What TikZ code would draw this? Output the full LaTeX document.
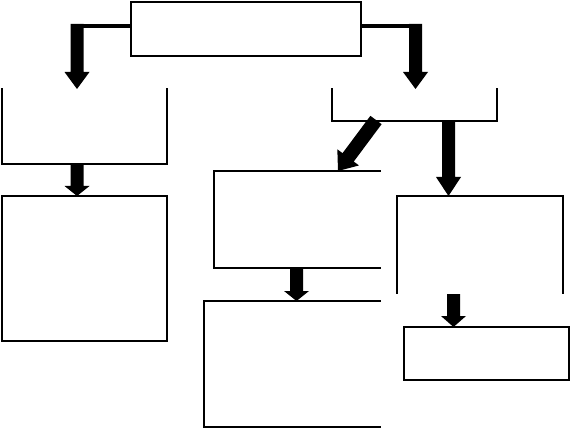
\documentclass[tikz,border=0pt]{standalone}
\usetikzlibrary{calc}
\newcommand\blockarrow[5]{% start, tip, shaft half width, head half width, head length
  \coordinate (ba-h) at ($(#2)!#5pt!(#1)$);
  \fill ($(#1)!#3pt!90:(#2)$) -- ($(ba-h)!#3pt!90:(#2)$) -- ($(ba-h)!#4pt!90:(#2)$)
    -- (#2) -- ($(ba-h)!#4pt!-90:(#2)$) -- ($(ba-h)!#3pt!-90:(#2)$)
    -- ($(#1)!#3pt!-90:(#2)$) -- cycle;}
\begin{document}
\begin{tikzpicture}[x=1pt,y=-1pt,
  blk/.style n args={2}{rectangle, inner sep=0pt, outer sep=0pt, anchor=north west,
    minimum width=#1pt, minimum height=#2pt},
  edge/.style={line width=1.2pt, line cap=rect},
  conn/.style={line width=4pt}]
\useasboundingbox (0,0) rectangle (572,430);
% boxes
\node[blk={230}{54}, draw, line width=1.2pt] (top) at (131,2) {};
\node[blk={165}{75}] (L1) at (2,89) {};
\draw[edge] (L1.north west) -- (L1.south west) -- (L1.south east) -- (L1.north east);
\node[blk={165}{145}, draw, line width=1.2pt] (L2) at (2,196) {};
\node[blk={165}{32}] (R1) at (332,89) {};
\draw[edge] (R1.north west) -- (R1.south west) -- (R1.south east) -- (R1.north east);
\node[blk={166}{97}] (M1) at (214,171) {};
\draw[edge] (M1.north east) -- (M1.north west) -- (M1.south west) -- (M1.south east);
\node[blk={176}{126}] (M2) at (204,301) {};
\draw[edge] (M2.north east) -- (M2.north west) -- (M2.south west) -- (M2.south east);
\node[blk={166}{97}] (R2) at (397,196) {};
\draw[edge] (R2.south west) -- (R2.north west) -- (R2.north east) -- (R2.south east);
\node[blk={165}{53}, draw, line width=1.2pt] (R3) at (404,327) {};
% connectors
\coordinate (c1) at (77,24);
\coordinate (c2) at (415.5,24);
\draw[conn] (top.west |- 0,26) -- (72,26);
\coordinate (c1e) at (L1.north -| c1);
\blockarrow{c1}{c1e}{6.5}{12.5}{17}
\draw[conn] (top.east |- 0,26) -- (420,26);
\coordinate (c2e) at (R1.north -| c2);
\blockarrow{c2}{c2e}{6.5}{12.5}{17}
\coordinate (a3) at (L1.south -| 77,0);
\coordinate (b3) at (L2.north -| 77,0);
\blockarrow{a3}{b3}{6.5}{12.5}{10}
\coordinate (a4) at ($(R1.south -| 376,0)+(0,-1)$);
\coordinate (b4) at (M1.north -| 338,0);
\blockarrow{a4}{b4}{7}{13.5}{17}
\coordinate (a6) at (R1.south -| 448.5,0);
\coordinate (b6) at (R2.north -| 448.5,0);
\blockarrow{a6}{b6}{6.5}{12.5}{19}
\coordinate (a7) at (M1.south -| 296.5,0);
\coordinate (b7) at (M2.north -| 296.5,0);
\blockarrow{a7}{b7}{6.5}{12.5}{10}
\coordinate (a8) at (453.5,294);
\coordinate (b8) at (R3.north -| 453.5,0);
\blockarrow{a8}{b8}{6.5}{12.5}{11}
\end{tikzpicture}
\end{document}
